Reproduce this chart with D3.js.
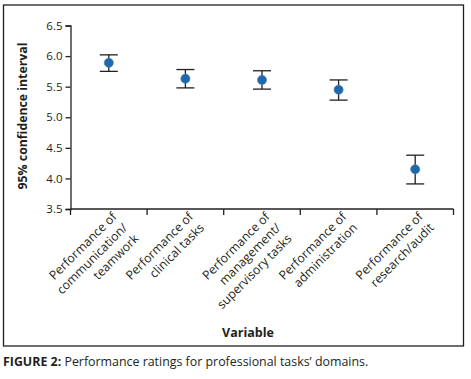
<!DOCTYPE html>
<html><head><meta charset="utf-8">
<script src="https://cdn.jsdelivr.net/npm/d3@7"></script>
<style>body{margin:0;background:#fff}svg{display:block}</style>
</head><body>
<script>
const categories = [
  ["Performance of","communication/","teamwork"],
  ["Performance of","clinical tasks"],
  ["Performance of","management/","supervisory tasks"],
  ["Performance of","administration"],
  ["Performance of","research/audit"]
];
const means = [5.89, 5.63, 5.61, 5.45, 4.15];
const upper = [6.02, 5.78, 5.76, 5.61, 4.38];
const lower = [5.75, 5.48, 5.46, 5.28, 3.91];
const yTicks = [3.5, 4.0, 4.5, 5.0, 5.5, 6.0, 6.5];
const yTitle = "95% confidence interval";
const xTitle = "Variable";
const captionBold = "FIGURE 2:";
const captionText = " Performance ratings for professional tasks’ domains.";

const W = 471, H = 379;
const font = "'Open Sans', sans-serif";
const ink = "#231f20";
const svg = d3.select("body").append("svg").attr("width", W).attr("height", H);

svg.append("rect").attr("x", 3.5).attr("y", 5).attr("width", 460).attr("height", 341)
  .attr("fill", "none").attr("stroke", ink).attr("stroke-width", 1.3);

const x = d3.scaleBand().domain(d3.range(categories.length)).range([70.5, 453.5]);
const y = d3.scaleLinear().domain([3.5, 6.5]).range([209, 25.5]);

const yAxis = svg.append("g").attr("transform", "translate(70.5,0)")
  .call(d3.axisLeft(y).tickValues(yTicks).tickFormat(d3.format(".1f")).tickSize(5).tickPadding(3));
yAxis.select(".domain").attr("stroke", ink).attr("stroke-width", 1.3);
yAxis.selectAll(".tick line").attr("stroke", ink).attr("stroke-width", 1.3);
yAxis.selectAll(".tick text").attr("font-family", font).attr("font-size", 11.5).attr("fill", ink);

const xAxisG = svg.append("g").attr("transform", "translate(0,209)");
xAxisG.append("line").attr("x1", x.range()[0]).attr("x2", x.range()[1])
  .attr("stroke", ink).attr("stroke-width", 1.3);
const bounds = d3.range(categories.length + 1).map(i => i === categories.length ? x.range()[1] : x(i));
xAxisG.selectAll("line.tk").data(bounds).join("line").attr("class", "tk")
  .attr("x1", d => d).attr("x2", d => d).attr("y1", 0).attr("y2", 6)
  .attr("stroke", ink).attr("stroke-width", 1.3);

categories.forEach((lines, i) => {
  const cx = x(i) + x.bandwidth() / 2;
  const g = svg.append("g").attr("transform", `translate(${cx + 5},${214}) rotate(-45)`);
  const t = g.append("text").attr("text-anchor", "end").attr("font-family", font)
    .attr("font-size", 12.3).attr("fill", ink);
  lines.forEach((ln, j) => {
    t.append("tspan").attr("x", 0).attr("y", 5 + j * 15.5).text(ln);
  });
});

const eb = svg.append("g");
means.forEach((m, i) => {
  const cx = x(i) + x.bandwidth() / 2;
  eb.append("line").attr("x1", cx).attr("x2", cx).attr("y1", y(upper[i])).attr("y2", y(lower[i]))
    .attr("stroke", ink).attr("stroke-width", 1.3);
  [upper[i], lower[i]].forEach(v => {
    eb.append("line").attr("x1", cx - 9).attr("x2", cx + 9).attr("y1", y(v)).attr("y2", y(v))
      .attr("stroke", ink).attr("stroke-width", 1.3);
  });
});
svg.append("g").selectAll("circle").data(means).join("circle")
  .attr("cx", (d, i) => x(i) + x.bandwidth() / 2).attr("cy", d => y(d)).attr("r", 4.6)
  .attr("fill", "#1c69ae").attr("stroke", "#5a7fa3").attr("stroke-width", 0.6);

svg.append("text").attr("transform", `translate(27,116) rotate(-90)`).attr("text-anchor", "middle")
  .attr("font-family", font).attr("font-weight", "bold").attr("font-size", 12.3).attr("fill", ink)
  .text(yTitle);
svg.append("text").attr("x", 248).attr("y", 337).attr("text-anchor", "middle")
  .attr("font-family", font).attr("font-weight", "bold").attr("font-size", 12.5).attr("fill", ink)
  .text(xTitle);

const cap = svg.append("text").attr("x", 3).attr("y", 366).attr("font-family", font)
  .attr("font-size", 12.4).attr("fill", ink);
cap.append("tspan").attr("font-weight", "bold").text(captionBold);
cap.append("tspan").text(captionText);
</script>
</body></html>
